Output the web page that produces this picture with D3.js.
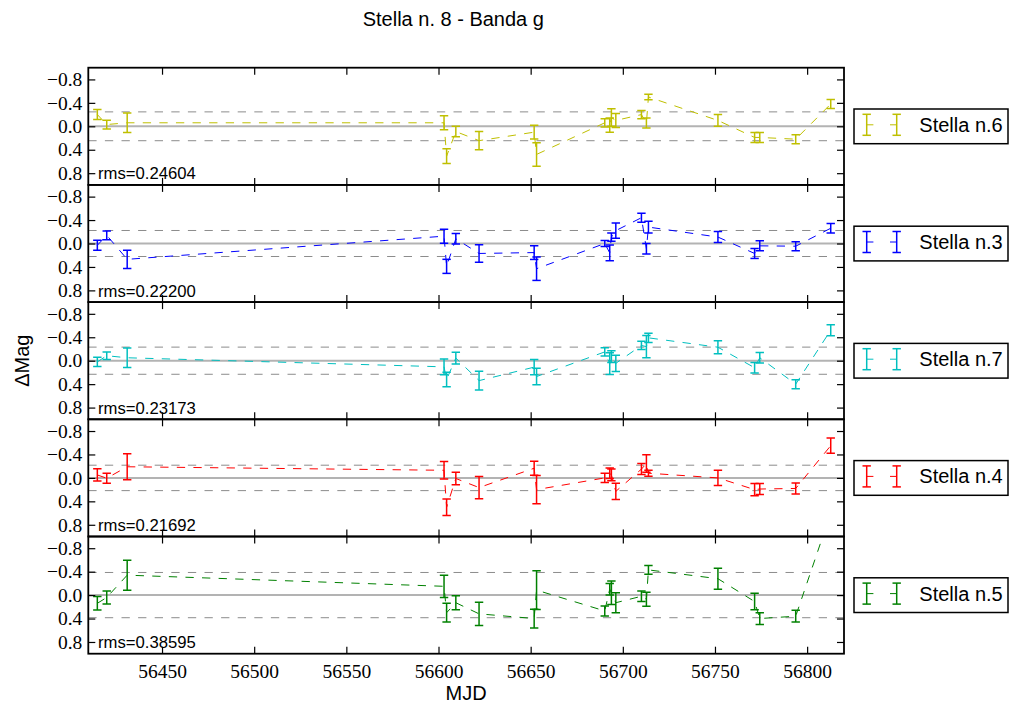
<!DOCTYPE html>
<html>
<head>
<meta charset="utf-8">
<script src="https://cdn.jsdelivr.net/npm/d3@7"></script>
<style>
  html, body { margin: 0; padding: 0; background: #fff; }
  svg { display: block; }
</style>
</head>
<body>
<svg id="chart" width="1013" height="705"></svg>
<script>
// Observation epochs (MJD) shared by all comparison stars
const mjd = [56414.9, 56420.0, 56431.1, 56603.0, 56604.4, 56609.4, 56622.0, 56651.9, 56653.2,
             56690.2, 56692.9, 56693.8, 56696.2, 56710.1, 56712.8, 56713.9, 56751.6, 56771.5,
             56774.3, 56793.8, 56812.8];

// Star names, one panel each
const stars = ["Stella n.6", "Stella n.3", "Stella n.7", "Stella n.4", "Stella n.5"];
const starColors = ["#bfbf00", "#0000ff", "#00bfbf", "#ff0000", "#008000"];
const rmsValues = [0.24604, 0.22200, 0.23173, 0.21692, 0.38595];

// Delta magnitudes per star
const dmag6 = [-0.20, -0.03, -0.06, -0.06, 0.51, 0.09, 0.245, 0.10, 0.48, -0.06, -0.02, -0.15, -0.10,
               -0.20, -0.057, -0.50, -0.10, 0.19, 0.19, 0.22, -0.38];
const dmag3 = [0.03, -0.14, 0.27, -0.125, 0.39, -0.08, 0.17, 0.155, 0.43, 0.00, 0.16, -0.11, -0.22,
               -0.44, 0.09, -0.28, -0.11, 0.17, 0.04, 0.046, -0.26];
const dmag7 = [0.02, -0.085, -0.05, 0.105, 0.32, -0.045, 0.34, 0.11, 0.27, -0.15, 0.05, -0.07, 0.045,
               -0.26, -0.24, -0.39, -0.23, 0.12, -0.05, 0.40, -0.52];
const dmag4 = [-0.05, 0.005, -0.19, -0.13, 0.50, 0.01, 0.165, -0.165, 0.20, 0.00, -0.08, -0.05, 0.23,
               -0.15, -0.245, -0.08, 0.00, 0.20, 0.19, 0.18, -0.55];
const dmag5 = [0.14, 0.04, -0.34, -0.15, 0.30, 0.13, 0.32, 0.40, -0.085, 0.27, -0.10, -0.04, 0.13,
               0.02, 0.07, -0.43, -0.28, 0.11, 0.40, 0.36, -1.40];

// Photometric errors per star
const err6 = [0.085, 0.075, 0.165, 0.12, 0.125, 0.09, 0.155, 0.117, 0.20, 0.07, 0.12, 0.15, 0.12,
              0.07, 0.085, 0.045, 0.10, 0.085, 0.085, 0.077, 0.077];
const err3 = [0.085, 0.074, 0.156, 0.12, 0.12, 0.09, 0.15, 0.117, 0.20, 0.05, 0.134, 0.07, 0.13,
              0.077, 0.09, 0.10, 0.094, 0.085, 0.085, 0.077, 0.08];
const err7 = [0.077, 0.065, 0.165, 0.134, 0.125, 0.10, 0.16, 0.13, 0.14, 0.07, 0.185, 0.10, 0.14,
              0.07, 0.19, 0.08, 0.11, 0.09, 0.09, 0.077, 0.094];
const err4 = [0.105, 0.085, 0.22, 0.15, 0.14, 0.108, 0.19, 0.12, 0.24, 0.08, 0.09, 0.10, 0.14,
              0.094, 0.15, 0.05, 0.13, 0.105, 0.095, 0.094, 0.13];
const err5 = [0.114, 0.11, 0.256, 0.19, 0.16, 0.12, 0.20, 0.16, 0.33, 0.085, 0.10, 0.20, 0.17,
              0.09, 0.12, 0.074, 0.18, 0.14, 0.10, 0.10, 0.15];

const dmags = [dmag6, dmag3, dmag7, dmag4, dmag5];
const errs = [err6, err3, err7, err4, err5];

const xTicks = [56450, 56500, 56550, 56600, 56650, 56700, 56750, 56800];
const yTicks = [-0.8, -0.4, 0.0, 0.4, 0.8];

const titleText = "Stella n. 8 - Banda g";
const xLabel = "MJD";
const yLabel = "\u0394Mag";

// Layout
const plotL = 88.3, plotR = 844;
const plotT = 67.7, panelH = 117.2;
const serif = "'Liberation Serif', 'Times New Roman', serif";
const sans = "'Liberation Sans', Arial, Helvetica, sans-serif";

const svg = d3.select("#chart");
const x = d3.scaleLinear().domain([56410, 56820]).range([plotL, plotR]);

svg.append("text")
  .attr("x", 453.3).attr("y", 26)
  .attr("text-anchor", "middle")
  .style("font-family", sans).style("font-size", "20px")
  .text(titleText);

const defs = svg.append("defs");

stars.forEach((name, i) => {
  const top = plotT + i * panelH;
  const bottom = top + panelH;
  const y = d3.scaleLinear().domain([-1, 1]).range([top, bottom]);
  const color = starColors[i];
  const rms = rmsValues[i];
  const pts = mjd.map((m, k) => ({ m, v: dmags[i][k], e: errs[i][k] }));

  defs.append("clipPath").attr("id", "clip" + i)
    .append("rect").attr("x", plotL).attr("y", top).attr("width", plotR - plotL).attr("height", panelH);

  const g = svg.append("g").attr("clip-path", `url(#clip${i})`);

  // zero reference line
  g.append("line")
    .attr("x1", plotL).attr("x2", plotR).attr("y1", y(0)).attr("y2", y(0))
    .attr("stroke", "#b3b3b3").attr("stroke-width", 2);

  // +/- rms levels
  [-rms, rms].forEach(r => {
    g.append("line")
      .attr("x1", plotL).attr("x2", plotR).attr("y1", y(r)).attr("y2", y(r))
      .attr("stroke", "#8c8c8c").attr("stroke-width", 1)
      .attr("stroke-dasharray", "8.3,8.3");
  });

  // light curve
  const line = d3.line().x(d => x(d.m)).y(d => y(d.v));
  g.append("path")
    .datum(pts)
    .attr("d", line)
    .attr("fill", "none")
    .attr("stroke", color).attr("stroke-width", 1)
    .attr("stroke-dasharray", "8.3,8.3");

  // error bars
  const capHalf = 4.2;
  const eb = g.append("g").attr("stroke", color).attr("stroke-width", 1.5).attr("fill", "none");
  pts.forEach(d => {
    const cx = x(d.m), y1 = y(d.v - d.e), y2 = y(d.v + d.e);
    eb.append("line").attr("x1", cx).attr("x2", cx).attr("y1", y1).attr("y2", y2);
    eb.append("line").attr("x1", cx - capHalf).attr("x2", cx + capHalf).attr("y1", y1).attr("y2", y1);
    eb.append("line").attr("x1", cx - capHalf).attr("x2", cx + capHalf).attr("y1", y2).attr("y2", y2);
  });

  // rms annotation
  svg.append("text")
    .attr("x", 98).attr("y", bottom - 5.5)
    .style("font-family", sans).style("font-size", "16.7px")
    .text("rms=" + rms.toFixed(5));

  // axes with inward ticks on all four sides
  const tickLen = 7;
  const left = svg.append("g").attr("transform", `translate(${plotL},0)`)
    .call(d3.axisLeft(y).tickValues(yTicks).tickFormat(d3.format(".1f"))
      .tickSizeInner(-tickLen).tickSizeOuter(0).tickPadding(6));
  const right = svg.append("g").attr("transform", `translate(${plotR},0)`)
    .call(d3.axisRight(y).tickValues(yTicks).tickFormat("").tickSizeInner(-tickLen).tickSizeOuter(0));
  const topAx = svg.append("g").attr("transform", `translate(0,${top})`)
    .call(d3.axisTop(x).tickValues(xTicks).tickFormat("").tickSizeInner(-tickLen).tickSizeOuter(0));
  const botAx = svg.append("g").attr("transform", `translate(0,${bottom})`)
    .call(d3.axisBottom(x).tickValues(xTicks)
      .tickFormat(i === stars.length - 1 ? d3.format("d") : "")
      .tickSizeInner(-tickLen).tickSizeOuter(0).tickPadding(10));

  [left, right, topAx, botAx].forEach(a => {
    a.select(".domain").remove();
    a.selectAll(".tick line").attr("stroke", "#000").attr("stroke-width", 1.2);
    a.selectAll(".tick text").attr("fill", "#000")
      .style("font-family", serif).style("font-size", "19.5px");
  });

  // frame
  svg.append("rect")
    .attr("x", plotL).attr("y", top).attr("width", plotR - plotL).attr("height", panelH)
    .attr("fill", "none").attr("stroke", "#000").attr("stroke-width", 1.8);

  // legend
  const cy = (top + bottom) / 2;
  const lg = svg.append("g");
  lg.append("rect")
    .attr("x", 854).attr("y", cy - 17.3).attr("width", 154).attr("height", 34.7)
    .attr("fill", "#fff").attr("stroke", "#000").attr("stroke-width", 1.5);
  const hy = cy - 1.5, hx1 = 866.7, hx2 = 896.7;
  lg.append("line").attr("x1", hx1).attr("x2", hx2).attr("y1", hy).attr("y2", hy)
    .attr("stroke", color).attr("stroke-width", 1).attr("stroke-dasharray", "6.7,16.6");
  [hx1, hx2].forEach(hx => {
    lg.append("line").attr("x1", hx).attr("x2", hx).attr("y1", hy - 10.5).attr("y2", hy + 10.5)
      .attr("stroke", color).attr("stroke-width", 1.5);
    [hy - 10.5, hy + 10.5].forEach(yy => {
      lg.append("line").attr("x1", hx - 4.2).attr("x2", hx + 4.2).attr("y1", yy).attr("y2", yy)
        .attr("stroke", color).attr("stroke-width", 1.5);
    });
  });
  lg.append("text")
    .attr("x", 919.3).attr("y", cy + 5.5)
    .style("font-family", sans).style("font-size", "20px")
    .text(name);
});

// axis titles
svg.append("text")
  .attr("x", (plotL + plotR) / 2).attr("y", 700)
  .attr("text-anchor", "middle")
  .style("font-family", sans).style("font-size", "20px")
  .text(xLabel);

svg.append("text")
  .attr("transform", `translate(29,${plotT + 2.5 * panelH}) rotate(-90)`)
  .attr("text-anchor", "middle")
  .style("font-family", sans).style("font-size", "20px")
  .text(yLabel);
</script>
</body>
</html>
